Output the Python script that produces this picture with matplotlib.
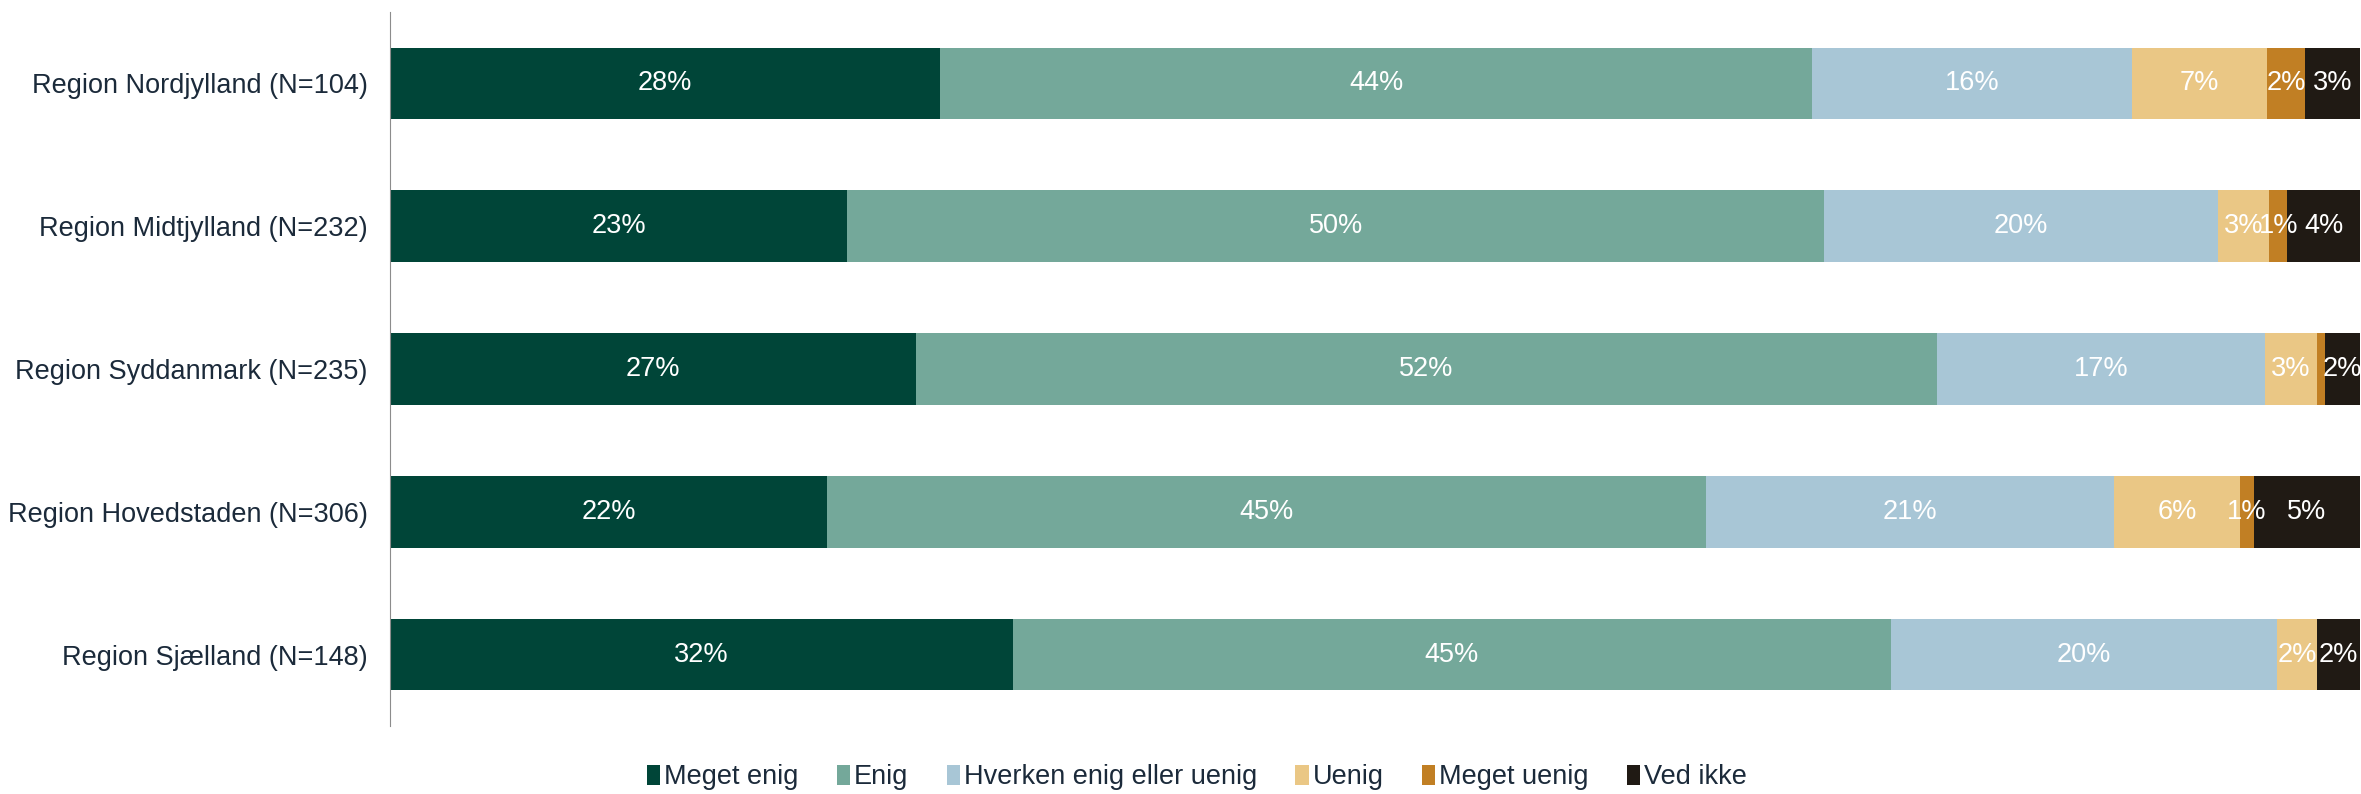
import numpy as np
import matplotlib
matplotlib.use('agg')
import matplotlib.pyplot as plt
from matplotlib.patches import Patch

regions = ['Region Nordjylland (N=104)', 'Region Midtjylland (N=232)',
           'Region Syddanmark (N=235)', 'Region Hovedstaden (N=306)',
           'Region Sjælland (N=148)']
answers = ['Meget enig', 'Enig', 'Hverken enig eller uenig', 'Uenig',
           'Meget uenig', 'Ved ikke']

# share in percent per answer, one value per region
meget_enig = [27.9, 23.2, 26.7, 22.2, 31.6]
enig = [44.3, 49.6, 51.8, 44.6, 44.6]
hverken = [16.2, 20.0, 16.7, 20.7, 19.6]
uenig = [6.9, 2.6, 2.6, 6.4, 2.0]
meget_uenig = [1.9, 0.9, 0.4, 0.7, 0.0]
ved_ikke = [2.8, 3.7, 1.8, 5.4, 2.2]

colors = ['#004538', '#74a89a', '#a8c6d6', '#eac785', '#c17f24', '#201a14']

plt.rcParams['font.family'] = ['Liberation Sans', 'DejaVu Sans']
text_col = '#1b2a3a'
fs = 19.5

fig = plt.figure(figsize=(23.61, 7.94), dpi=100)
ax = fig.add_axes([0.1652, 0.0856, 0.8344, 0.8994])

series = [meget_enig, enig, hverken, uenig, meget_uenig, ved_ikke]
y = np.arange(len(regions))
left = np.zeros(len(regions))
for vals, col in zip(series, colors):
    vals = np.array(vals)
    ax.barh(y, vals, left=left, height=0.5, color=col)
    for yi, v, l in zip(y, vals, left):
        if round(v) >= 1:
            ax.text(l + v / 2, yi, f'{round(v)}%', ha='center', va='center',
                    color='white', fontsize=fs)
    left += vals

ax.set_xlim(0, 100)
ax.set_ylim(len(regions) - 0.5, -0.5)
ax.set_yticks(y)
ax.set_yticklabels(regions, fontsize=fs, color=text_col)
ax.tick_params(axis='y', length=0, pad=16)
ax.set_xticks([])
for s in ['top', 'right', 'bottom']:
    ax.spines[s].set_visible(False)
ax.spines['left'].set_color('#8c8c8c')

handles = [Patch(facecolor=c, edgecolor='none') for c in colors]
leg = fig.legend(handles, answers, loc='center', bbox_to_anchor=(0.507, 0.021),
                 ncol=6, frameon=False, fontsize=fs, handlelength=0.5,
                 handleheight=0.8, handletextpad=0.15, columnspacing=1.4)
for t in leg.get_texts():
    t.set_color(text_col)

fig.savefig('out.png', dpi=100)
